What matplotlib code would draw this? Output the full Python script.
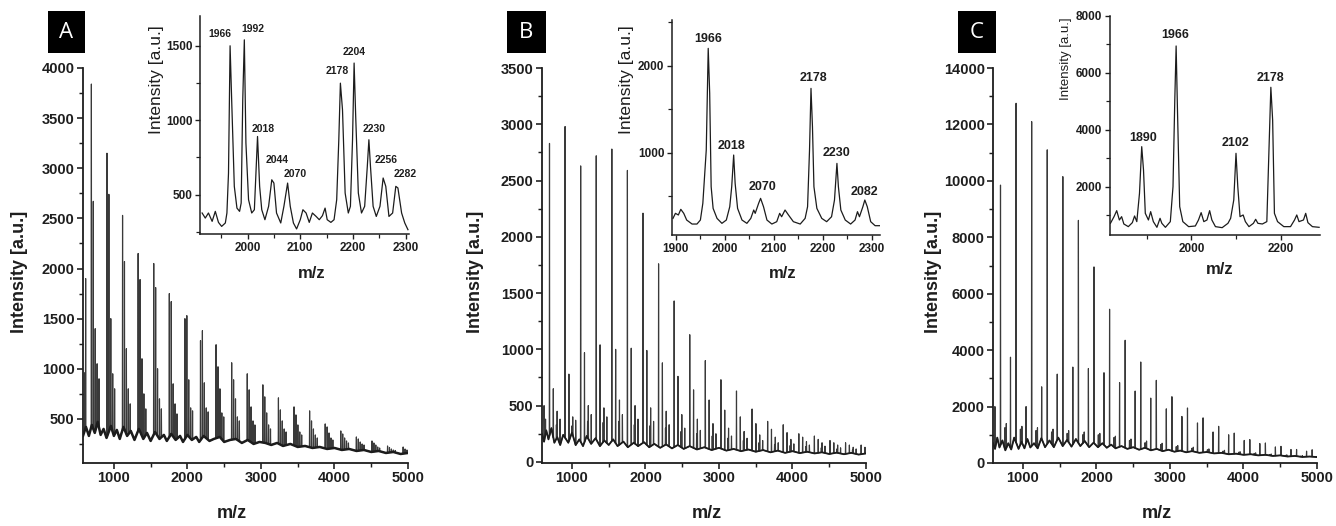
import numpy as np
import matplotlib
matplotlib.use('Agg')
import matplotlib.pyplot as plt
from matplotlib.ticker import MultipleLocator
from matplotlib.patches import Rectangle

plt.rcParams['font.family'] = ['Liberation Sans', 'DejaVu Sans']

# ------------------------------------------------------------------ data
panel_letters = ['A', 'B', 'C']

# oligomer series positions (m/z of first peak of each cluster)
cluster_mz = [694, 906, 1118, 1330, 1542, 1754, 1966, 2178, 2390, 2602, 2814,
              3026, 3238, 3450, 3662, 3874, 4086, 4298, 4510, 4722, 4934]

# --- panel A : five peaks per cluster, spaced 26 Da
a_offsets = [0, 26, 52, 78, 104]
a_h1 = [3840, 3150, 2530, 2150, 2050, 1750, 1500, 1280, 1240, 1060, 950, 840, 710, 620, 580, 450, 380, 320, 280, 230, 220]
a_h2 = [2670, 2740, 2070, 1890, 1810, 1670, 1530, 1380, 1020, 890, 790, 720, 590, 540, 480, 420, 350, 300, 260, 215, 200]
a_h3 = [1400, 1500, 1200, 1100, 1000, 850, 890, 860, 800, 700, 620, 560, 480, 440, 400, 360, 310, 270, 240, 200, 190]
a_h4 = [1050, 950, 800, 750, 700, 650, 610, 610, 560, 520, 480, 440, 400, 370, 340, 310, 280, 250, 220, 190, 180]
a_h5 = [900, 800, 650, 600, 600, 550, 580, 570, 520, 480, 440, 400, 370, 340, 310, 290, 260, 240, 210, 185, 175]
a_extra_mz = [604, 616]
a_extra_h = [960, 1900]
a_base_mz = [580, 620, 660, 700, 740, 780, 820, 860, 900, 960, 1000, 1040, 1080, 1130, 1180, 1230, 1280,
             1340, 1400, 1450, 1500, 1560, 1620, 1680, 1720, 1780, 1840, 1900, 1940, 2000, 2060, 2120,
             2160, 2220, 2300, 2360, 2440, 2500, 2580, 2660, 2740, 2820, 2900, 2980, 3060, 3140, 3220,
             3300, 3400, 3500, 3600, 3700, 3800, 3900, 4000, 4100, 4200, 4300, 4400, 4500, 4600, 4700,
             4800, 4900, 5000]
a_base_y = [330, 420, 330, 440, 360, 470, 340, 400, 310, 430, 330, 390, 300, 420, 330, 380, 290,
            400, 300, 360, 280, 370, 300, 340, 280, 350, 290, 330, 270, 340, 290, 320,
            270, 330, 280, 300, 320, 270, 290, 300, 260, 290, 250, 270, 260, 240, 260,
            230, 250, 220, 230, 210, 220, 200, 210, 190, 200, 180, 190, 170, 180, 160,
            170, 150, 160]

# --- panel B : peaks at m, m+52, m+104, m+144, m+94
b_offsets = [0, 52, 104, 144, 94]
b_h1 = [2830, 2980, 2630, 2720, 2780, 2590, 2210, 1760, 1430, 1130, 900, 730, 630, 470, 360, 330, 250, 230, 190, 170, 150]
b_h2 = [650, 780, 970, 1040, 1000, 1010, 990, 880, 760, 640, 550, 460, 400, 340, 290, 260, 220, 200, 170, 150, 130]
b_h3 = [450, 400, 500, 480, 550, 500, 480, 450, 420, 380, 340, 300, 270, 240, 220, 200, 180, 170, 150, 130, 120]
b_h4 = [380, 370, 420, 400, 420, 380, 360, 330, 300, 280, 250, 230, 210, 190, 170, 160, 150, 140, 125, 115, 105]
b_h5 = [330, 320, 360, 350, 360, 330, 320, 300, 270, 250, 230, 210, 190, 170, 155, 145, 135, 125, 115, 105, 95]
b_extra_mz = [620, 640]
b_extra_h = [500, 380]
b_base_mz = [592, 620, 650, 680, 720, 760, 800, 840, 880, 950, 1000, 1050, 1100, 1150, 1200, 1260,
             1320, 1380, 1440, 1500, 1560, 1620, 1700, 1760, 1840, 1900, 1980, 2050, 2120, 2200,
             2280, 2360, 2440, 2520, 2600, 2700, 2800, 2900, 3000, 3100, 3200, 3300, 3400, 3500,
             3600, 3700, 3800, 3900, 4000, 4100, 4200, 4300, 4400, 4500, 4600, 4700, 4800, 4900, 5000]
b_base_y = [250, 180, 280, 200, 300, 170, 220, 150, 240, 170, 260, 150, 200, 140, 230, 160,
            210, 140, 190, 150, 200, 140, 180, 130, 170, 140, 175, 130, 160, 125,
            155, 120, 150, 115, 140, 110, 130, 105, 125, 100, 115, 95, 110, 90,
            105, 85, 100, 80, 95, 78, 90, 75, 85, 70, 82, 68, 80, 65, 75]

# --- panel C : main series at m, second series at m-76, small peaks at m+79, m+59
c_offsets = [0, -76, 79, 59]
c_h1 = [9850, 12750, 12100, 11100, 10150, 8600, 6950, 5450, 4350, 3580, 2930, 2350, 1950, 1600, 1300, 1060, 830, 710, 590, 480, 470]
c_h2 = [2000, 3750, 2000, 2700, 3150, 3400, 3350, 3200, 2850, 2550, 2300, 1920, 1650, 1420, 1100, 1000, 800, 690, 570, 480, 420]
c_h3 = [1400, 1300, 1250, 1200, 1150, 1100, 1050, 950, 850, 780, 700, 620, 560, 500, 450, 400, 360, 320, 290, 260, 240]
c_h4 = [1250, 1200, 1150, 1100, 1050, 1000, 1000, 900, 800, 720, 650, 580, 520, 470, 420, 380, 340, 300, 270, 245, 230]
c_base_mz = [592, 620, 650, 680, 720, 760, 800, 840, 880, 940, 980, 1020, 1060, 1100, 1150, 1200,
             1250, 1300, 1360, 1420, 1480, 1540, 1600, 1660, 1720, 1780, 1840, 1900, 1960, 2020,
             2080, 2140, 2200, 2260, 2340, 2420, 2500, 2580, 2660, 2740, 2820, 2900, 2980, 3060,
             3140, 3220, 3300, 3400, 3500, 3600, 3700, 3800, 3900, 4000, 4100, 4200, 4300, 4400,
             4500, 4600, 4700, 4800, 4900, 5000]
c_base_y = [700, 500, 900, 550, 800, 450, 700, 480, 900, 500, 750, 520, 850, 550, 700, 520,
            880, 560, 800, 560, 900, 600, 820, 580, 850, 600, 780, 560, 720, 560,
            700, 540, 650, 520, 600, 500, 560, 470, 540, 450, 500, 420, 470, 400,
            440, 380, 420, 360, 390, 340, 360, 310, 330, 290, 310, 270, 290, 250,
            270, 230, 250, 215, 230, 210]

# --- insets (m/z, intensity) traces
ins_a_mz = [1914, 1920, 1926, 1933, 1939, 1945, 1951, 1958, 1961, 1964, 1967, 1970, 1975, 1980, 1985,
            1988, 1991, 1994, 1997, 2002, 2008, 2013, 2016, 2019, 2023, 2027, 2033, 2040, 2046, 2050,
            2055, 2063, 2069, 2076, 2081, 2087, 2093, 2100, 2105, 2111, 2117, 2123, 2130, 2136, 2142,
            2147, 2151, 2158, 2164, 2169, 2173, 2176, 2180, 2185, 2191, 2195, 2199, 2202, 2205, 2210,
            2216, 2222, 2227, 2230, 2233, 2238, 2244, 2251, 2257, 2262, 2268, 2275, 2281, 2285, 2292,
            2298, 2304]
ins_a_y = [377, 343, 377, 321, 388, 314, 287, 310, 377, 645, 1500, 1137, 556, 410, 388,
           444, 1137, 1540, 847, 466, 377, 399, 645, 891, 556, 399, 332, 422, 600, 578,
           377, 310, 422, 578, 422, 310, 270, 332, 399, 377, 314, 377, 354, 332, 359,
           410, 332, 314, 332, 466, 869, 1249, 1070, 511, 377, 422, 869, 1384, 1026, 511,
           377, 422, 690, 869, 690, 422, 354, 422, 612, 556, 354, 377, 556, 545, 377,
           310, 265]
ins_a_labels = ['1966', '1992', '2018', '2044', '2070', '2178', '2204', '2230', '2256', '2282']
ins_a_lab_x = [1948, 2011, 2030, 2057, 2090, 2170, 2202, 2239, 2263, 2298]
ins_a_lab_y = [1578, 1612, 941, 730, 641, 1328, 1455, 941, 730, 641]

ins_b_mz = [1894, 1899, 1905, 1910, 1916, 1922, 1933, 1943, 1950, 1955, 1962, 1966, 1969, 1972, 1976,
            1984, 1994, 2003, 2010, 2014, 2018, 2021, 2026, 2035, 2045, 2053, 2059, 2062, 2069, 2073,
            2079, 2086, 2096, 2106, 2112, 2116, 2123, 2130, 2140, 2154, 2164, 2169, 2173, 2176, 2179,
            2182, 2188, 2198, 2208, 2218, 2224, 2229, 2232, 2237, 2246, 2257, 2266, 2271, 2275, 2282,
            2286, 2291, 2298, 2307, 2316]
ins_b_y = [245, 303, 284, 349, 303, 226, 180, 180, 226, 418, 1031, 2199, 1682, 609, 360,
           245, 188, 226, 379, 609, 973, 648, 360, 226, 188, 245, 341, 303, 418, 475,
           379, 226, 180, 207, 303, 264, 341, 284, 207, 180, 245, 379, 1031, 1739, 1299,
           609, 360, 245, 207, 264, 456, 877, 609, 341, 226, 180, 226, 322, 264, 379,
           456, 379, 207, 161, 161]
ins_b_labels = ['1966', '2018', '2070', '2178', '2230', '2082']
ins_b_lab_x = [1965, 2014, 2076, 2180, 2229, 2286]
ins_b_lab_y = [2303, 1077, 609, 1854, 992, 552]

ins_c_mz = [1819, 1827, 1833, 1839, 1844, 1849, 1859, 1868, 1873, 1878, 1884, 1889, 1893, 1897, 1904,
            1909, 1915, 1923, 1930, 1934, 1942, 1953, 1959, 1963, 1966, 1969, 1974, 1981, 1994, 2009,
            2016, 2022, 2028, 2035, 2041, 2046, 2054, 2069, 2082, 2088, 2095, 2100, 2104, 2109, 2116,
            2121, 2129, 2139, 2144, 2149, 2159, 2169, 2174, 2178, 2182, 2186, 2193, 2207, 2222, 2231,
            2236, 2241, 2251, 2256, 2261, 2271, 2286]
ins_c_y = [711, 945, 1156, 828, 945, 687, 594, 734, 969, 770, 1766, 3406, 2586, 1062, 828,
           1121, 770, 570, 887, 711, 570, 770, 2000, 5047, 6946, 4696, 1297, 770, 594, 617,
           828, 1086, 770, 828, 1156, 828, 594, 558, 711, 887, 1531, 3172, 2000, 945, 1004,
           770, 594, 711, 852, 711, 687, 770, 3406, 5493, 4344, 1062, 770, 594, 594, 828,
           1004, 770, 828, 1062, 734, 594, 570]
ins_c_labels = ['1890', '1966', '2102', '2178']
ins_c_lab_x = [1893, 1964, 2099, 2178]
ins_c_lab_y = [3723, 7333, 3524, 5809]

# ------------------------------------------------------------------ helpers
W, H = 1336, 526
TXT = '#1e1e1e'
LINE = '#1c1c1c'
PEAK = '#3a3a3a'

fig = plt.figure(figsize=(W / 100, H / 100), dpi=100)


def rect(l, t, r, b):
    return [l / W, 1 - b / H, (r - l) / W, (b - t) / H]


def spectrum(base_mz, base_y, peak_mz, peak_h, half=3.0):
    bm = np.asarray(base_mz, float)
    by = np.asarray(base_y, float)
    xs = list(bm)
    ys = list(by)
    for m, h in zip(peak_mz, peak_h):
        b = float(np.interp(m, bm, by))
        xs += [m - half, m, m + half]
        ys += [b, h, b]
    xs = np.asarray(xs)
    ys = np.asarray(ys)
    order = np.argsort(xs, kind='stable')
    return xs[order], ys[order]


def collect(offsets, heights, extra_mz=(), extra_h=()):
    pm, ph = list(extra_mz), list(extra_h)
    for off, hs in zip(offsets, heights):
        for c, h in zip(cluster_mz, hs):
            pm.append(c + off)
            ph.append(h)
    return pm, ph


def style(ax, xmaj, xmin, ymaj, ymin, fs, tlen, lw):
    for s in ['top', 'right']:
        ax.spines[s].set_visible(False)
    for s in ['left', 'bottom']:
        ax.spines[s].set_linewidth(lw)
        ax.spines[s].set_color(TXT)
    ax.xaxis.set_major_locator(MultipleLocator(xmaj))
    ax.xaxis.set_minor_locator(MultipleLocator(xmin))
    ax.yaxis.set_major_locator(MultipleLocator(ymaj))
    ax.yaxis.set_minor_locator(MultipleLocator(ymin))
    ax.tick_params(which='major', direction='out', length=tlen, width=lw * 0.9,
                   colors=TXT, labelsize=fs, pad=2)
    ax.tick_params(which='minor', direction='out', length=tlen * 0.8, width=lw * 0.8,
                   colors=TXT)
    for lab in ax.get_xticklabels() + ax.get_yticklabels():
        lab.set_fontweight('bold')
    ax.patch.set_alpha(0)


# ------------------------------------------------------------------ main panels
main_rects = [rect(83, 68, 408, 463), rect(542, 68, 866, 463), rect(993, 68, 1317, 463)]
ins_rects = [rect(200, 16, 409, 234), rect(672, 20, 880, 235), rect(1110, 16, 1320, 235)]

pa = collect(a_offsets, [a_h1, a_h2, a_h3, a_h4, a_h5], a_extra_mz, a_extra_h)
pb = collect(b_offsets, [b_h1, b_h2, b_h3, b_h4, b_h5], b_extra_mz, b_extra_h)
pc = collect(c_offsets, [c_h1, c_h2, c_h3, c_h4])
main_specs = [spectrum(a_base_mz, a_base_y, *pa),
              spectrum(b_base_mz, b_base_y, *pb),
              spectrum(c_base_mz, c_base_y, *pc)]
main_bases = [(a_base_mz, a_base_y), (b_base_mz, b_base_y), (c_base_mz, c_base_y)]
main_xlim = [(580, 5000), (592, 5000), (592, 5000)]
main_ylim = [(60, 4000), (-10, 3500), (0, 14000)]
main_ymaj = [500, 500, 2000]
main_ymin = [250, 250, 1000]
base_lw = [1.8, 1.3, 1.3]

for i in range(3):
    ax = fig.add_axes(main_rects[i])
    x, y = main_specs[i]
    ax.plot(x, y, color=PEAK, lw=0.85)
    ax.plot(*main_bases[i], color=LINE, lw=base_lw[i])
    ax.set_xlim(*main_xlim[i])
    ax.set_ylim(*main_ylim[i])
    style(ax, 1000, 500, main_ymaj[i], main_ymin[i], 10.5, 4, 1.3)

# main axis labels
ylab_x = [20, 475, 933]
xlab_x = [232, 707, 1157]
for i in range(3):
    fig.text(ylab_x[i] / W, 1 - 272 / H, 'Intensity [a.u.]', rotation=90, ha='center',
             va='center', fontsize=13, fontweight='bold', color=TXT)
    fig.text(xlab_x[i] / W, 1 - 513 / H, 'm/z', ha='center', va='center',
             fontsize=13, fontweight='bold', color=TXT)

# panel letters
boxes = [(48, 11, 85, 53), (507, 11, 546, 53), (958, 11, 996, 53)]
for (l, t, r, b), letter in zip(boxes, panel_letters):
    fig.add_artist(Rectangle((l / W, 1 - b / H), (r - l) / W, (b - t) / H,
                             transform=fig.transFigure, color='black', lw=0))
    fig.text((l + r) / 2 / W, 1 - (t + b) / 2 / H, letter, ha='center', va='center',
             color='white', fontsize=16, family=['Open Sans', 'DejaVu Sans'])

# ------------------------------------------------------------------ insets
ins_data = [(ins_a_mz, ins_a_y, ins_a_labels, ins_a_lab_x, ins_a_lab_y),
            (ins_b_mz, ins_b_y, ins_b_labels, ins_b_lab_x, ins_b_lab_y),
            (ins_c_mz, ins_c_y, ins_c_labels, ins_c_lab_x, ins_c_lab_y)]
ins_xlim = [(1910, 2306), (1892, 2317), (1818, 2288)]
ins_ylim = [(236, 1700), (54, 2525), (300, 8000)]
ins_xmaj = [100, 100, 200]
ins_xmin = [50, 50, 100]
ins_ymaj = [500, 1000, 2000]
ins_ymin = [250, 500, 1000]
ins_lab_fs = [7.5, 9, 9]

for i in range(3):
    ax = fig.add_axes(ins_rects[i])
    mz, yy, labs, lx, ly = ins_data[i]
    ax.plot(mz, yy, color=LINE, lw=0.9)
    ax.set_xlim(*ins_xlim[i])
    ax.set_ylim(*ins_ylim[i])
    style(ax, ins_xmaj[i], ins_xmin[i], ins_ymaj[i], ins_ymin[i], 8.5, 3.5, 1.1)
    for t, xx, yv in zip(labs, lx, ly):
        ax.text(xx, yv, t, ha='center', va='center', fontsize=ins_lab_fs[i],
                fontweight='bold', color=TXT)

ins_ylab = [(156, 80, 12.5), (627, 80, 12.5), (1066, 59, 9.5)]
ins_xlab = [(312, 273), (783, 273), (1220, 270)]
for (x, y, fs), (x2, y2) in zip(ins_ylab, ins_xlab):
    fig.text(x / W, 1 - y / H, 'Intensity [a.u.]', rotation=90, ha='center', va='center',
             fontsize=fs, color=TXT)
    fig.text(x2 / W, 1 - y2 / H, 'm/z', ha='center', va='center', fontsize=12,
             fontweight='bold', color=TXT)

fig.savefig('out.png', dpi=100, facecolor='white')
